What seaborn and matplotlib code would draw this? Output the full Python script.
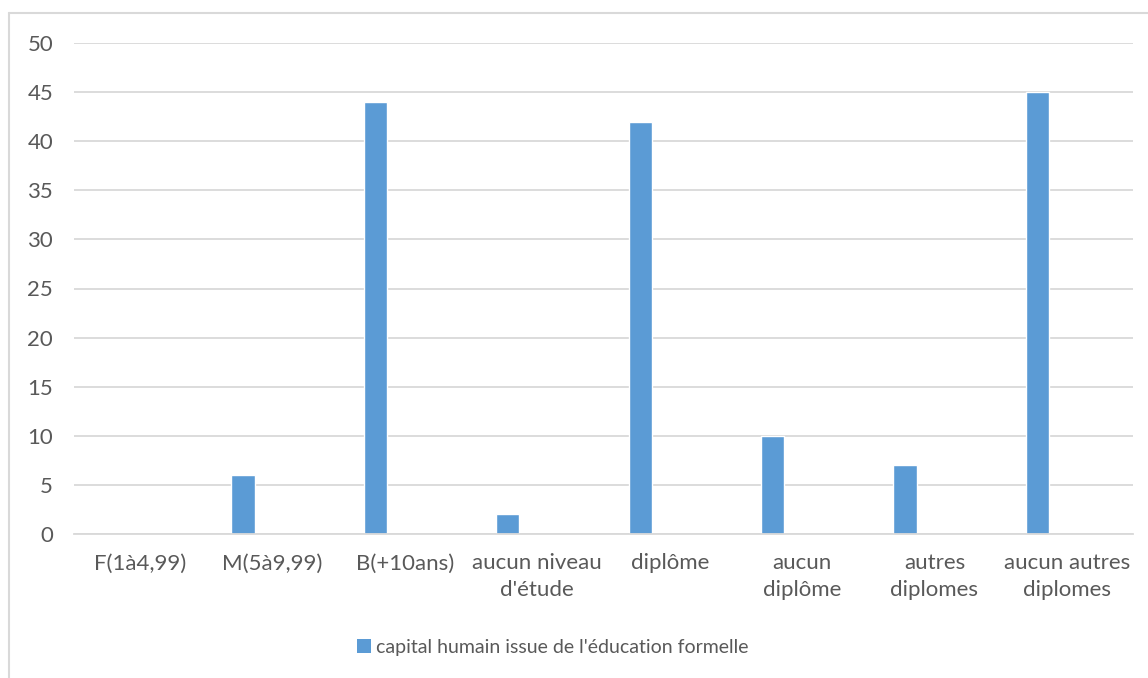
import seaborn as sns
import matplotlib.pyplot as plt
import pandas as pd
from matplotlib.lines import Line2D
from matplotlib.patches import Patch

# Data
categories = ["F(1à4,99)", "M(5à9,99)", "B(+10ans)", "aucun niveau\nd'étude", "diplôme",
              "aucun\ndiplôme", "autres\ndiplomes", "aucun autres\ndiplomes"]
values = [0, 6, 44, 2, 42, 10, 7, 45]
series_name = "capital humain issue de l'éducation formelle"

df = pd.DataFrame({'categorie': categories, 'valeur': values})

sns.set_style('white')
plt.rcParams['font.family'] = ['Lato', 'DejaVu Sans']

bar_color = '#5B9BD5'
text_color = '#595959'
grid_color = '#D9D9D9'

fig = plt.figure(figsize=(11.48, 6.78), dpi=100)
ax = fig.add_axes([74 / 1148, 1 - 534 / 678, (1133 - 74) / 1148, (534 - 43) / 678])

sns.barplot(x='categorie', y='valeur', data=df, color=bar_color, width=0.175,
            saturation=1, ax=ax)

# Excel-style offset of the single series within each category
for p in ax.patches:
    p.set_x(p.get_x() - 0.223)

ax.set_xlim(-0.5, len(categories) - 0.5)
ax.set_ylim(0, 50)
ax.set_yticks(range(0, 51, 5))
ax.yaxis.grid(True, color=grid_color, linewidth=1.3)
ax.set_axisbelow(True)
for s in ['top', 'right', 'left']:
    ax.spines[s].set_visible(False)
ax.spines['bottom'].set_color(grid_color)
ax.spines['bottom'].set_linewidth(1.3)
ax.tick_params(axis='both', length=0, labelsize=16, colors=text_color)
ax.tick_params(axis='y', pad=15)
ax.tick_params(axis='x', pad=14)
ax.set_xlabel('')
ax.set_ylabel('')
for lbl in ax.get_xticklabels():
    lbl.set_linespacing(1.4)

# Legend
handles = [Patch(facecolor=bar_color, edgecolor='none', label=series_name)]
fig.legend(handles=handles, loc='center', bbox_to_anchor=(553 / 1148, 1 - 647 / 678),
           frameon=False, fontsize=14, handlelength=0.7, handleheight=0.7,
           handletextpad=0.3, labelcolor=text_color)

# Chart area border (top and left visible)
fig.add_artist(Line2D([9 / 1148, 1], [1 - 13 / 678, 1 - 13 / 678], color=grid_color, linewidth=1.5,
                      transform=fig.transFigure))
fig.add_artist(Line2D([9 / 1148, 9 / 1148], [0, 1 - 13 / 678], color=grid_color, linewidth=1.5,
                      transform=fig.transFigure))

plt.savefig('out.png', dpi=100)
